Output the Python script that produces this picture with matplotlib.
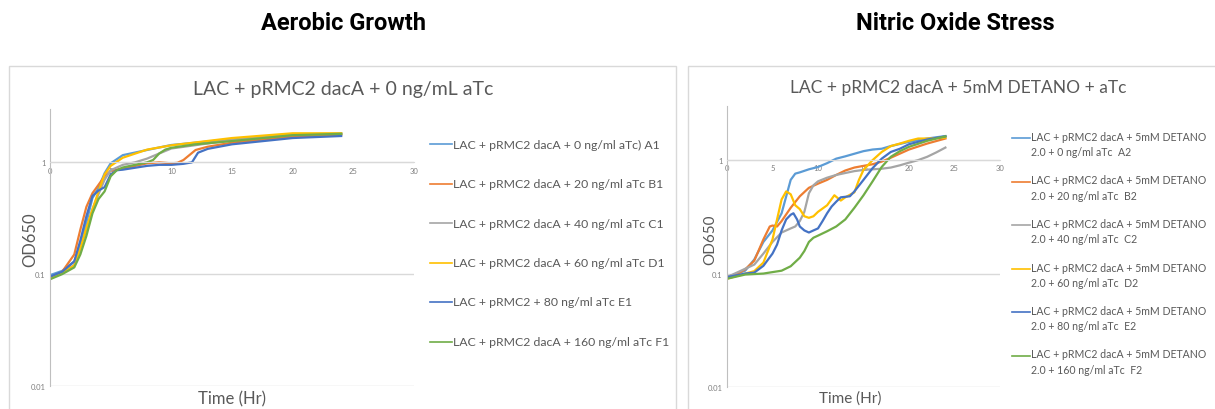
import numpy as np
import matplotlib.pyplot as plt
from matplotlib.patches import Rectangle
from matplotlib.lines import Line2D

W, H = 1215, 410

# ---- aerobic growth data (hours, OD650) ----
t_a1 = [0, 1, 2, 2.5, 3, 3.5, 4, 4.5, 5, 6, 8, 10, 15, 20, 24]
od_a1 = [0.098, 0.107, 0.13, 0.18, 0.29, 0.48, 0.59, 0.8, 0.98, 1.16, 1.29, 1.43, 1.61, 1.78, 1.8]

t_b1 = [0, 1, 2, 2.5, 3, 3.5, 4, 4.5, 5, 6, 8, 9, 10, 10.5, 11, 12, 13, 15, 20, 24]
od_b1 = [0.091, 0.105, 0.15, 0.25, 0.4, 0.53, 0.63, 0.75, 0.84, 0.88, 0.98, 1.0, 0.98, 0.99, 1.05, 1.29, 1.38, 1.5, 1.7, 1.77]

t_c1 = [0, 1, 2, 2.5, 3, 3.5, 4, 4.5, 5, 6, 7, 8, 9, 10, 15, 20, 24]
od_c1 = [0.094, 0.103, 0.12, 0.17, 0.25, 0.38, 0.52, 0.7, 0.85, 0.95, 1.0, 1.08, 1.2, 1.33, 1.58, 1.78, 1.8]

t_d1 = [0, 1, 2, 2.5, 3, 3.5, 4, 4.5, 5, 6, 8, 10, 15, 20, 24]
od_d1 = [0.093, 0.102, 0.12, 0.17, 0.26, 0.38, 0.55, 0.78, 0.93, 1.1, 1.3, 1.42, 1.65, 1.82, 1.82]

t_e1 = [0, 1, 2, 2.5, 3, 3.5, 4, 4.5, 5, 5.5, 6, 8, 9, 10, 11, 11.7, 12.2, 13, 15, 20, 24]
od_e1 = [0.095, 0.105, 0.13, 0.2, 0.33, 0.5, 0.56, 0.6, 0.78, 0.85, 0.86, 0.93, 0.95, 0.95, 0.97, 1.0, 1.22, 1.32, 1.45, 1.65, 1.72]

t_f1 = [0, 1, 2, 2.5, 3, 3.5, 4, 4.5, 5, 5.5, 6, 7, 8, 8.5, 9, 9.5, 10, 12, 15, 20, 24]
od_f1 = [0.09, 0.1, 0.115, 0.15, 0.22, 0.35, 0.47, 0.55, 0.75, 0.85, 0.9, 0.95, 1.0, 1.05, 1.2, 1.3, 1.35, 1.45, 1.55, 1.75, 1.8]

# ---- nitric oxide stress data ----
t_a2 = [0, 2, 3, 4, 5, 6, 7, 7.5, 8, 9, 10, 11, 12, 13, 15, 16, 17, 18, 20, 22, 24]
od_a2 = [0.093, 0.106, 0.133, 0.19, 0.24, 0.34, 0.67, 0.76, 0.78, 0.83, 0.87, 0.94, 1.03, 1.08, 1.2, 1.24, 1.26, 1.33, 1.45, 1.55, 1.63]

t_b2 = [0, 1.2, 2, 3, 4, 4.7, 5, 5.5, 6, 7, 8, 9, 10, 11, 12, 13, 14, 15, 16, 17, 18, 20, 22, 24]
od_b2 = [0.093, 0.1, 0.109, 0.13, 0.2, 0.26, 0.265, 0.26, 0.29, 0.38, 0.48, 0.57, 0.62, 0.67, 0.74, 0.81, 0.86, 0.89, 0.92, 0.97, 1.05, 1.24, 1.4, 1.55]

t_c2 = [0, 3, 4, 5, 6, 7, 7.5, 8, 8.5, 9, 9.5, 10, 11, 12, 13, 14, 15, 16, 17, 18, 19, 20, 21, 22, 23, 24]
od_c2 = [0.093, 0.12, 0.15, 0.19, 0.23, 0.25, 0.26, 0.29, 0.35, 0.51, 0.6, 0.65, 0.7, 0.74, 0.77, 0.8, 0.82, 0.83, 0.84, 0.86, 0.9, 0.95, 1.0, 1.07, 1.17, 1.29]

t_d2 = [0, 2, 3, 4, 5, 5.5, 6, 6.5, 7, 7.5, 8, 8.5, 9, 9.5, 10, 11, 11.8, 12.5, 13, 14, 14.5, 15, 16, 17, 18, 19, 20, 21, 22, 24]
od_d2 = [0.09, 0.1, 0.105, 0.125, 0.2, 0.3, 0.45, 0.53, 0.5, 0.4, 0.37, 0.32, 0.31, 0.32, 0.35, 0.4, 0.49, 0.44, 0.47, 0.52, 0.67, 0.82, 1.0, 1.18, 1.33, 1.4, 1.48, 1.55, 1.55, 1.58]

t_e2 = [0, 2, 3, 4, 5, 5.5, 6, 6.5, 7, 7.3, 7.7, 8, 8.5, 9, 9.5, 10, 10.5, 11, 11.5, 12, 12.5, 13.5, 14, 15, 16, 17, 18, 19, 20, 22, 24]
od_e2 = [0.093, 0.1, 0.102, 0.117, 0.15, 0.18, 0.24, 0.3, 0.33, 0.34, 0.3, 0.26, 0.24, 0.23, 0.24, 0.25, 0.29, 0.34, 0.39, 0.43, 0.47, 0.48, 0.53, 0.67, 0.85, 1.03, 1.18, 1.26, 1.38, 1.52, 1.62]

t_f2 = [0, 2, 4, 5, 6, 7, 8, 8.5, 9, 9.5, 10, 11, 12, 13, 14, 15, 16, 17, 18, 19, 20, 22, 24]
od_f2 = [0.09, 0.098, 0.1, 0.103, 0.106, 0.116, 0.138, 0.158, 0.19, 0.207, 0.216, 0.236, 0.26, 0.3, 0.38, 0.49, 0.65, 0.87, 1.07, 1.2, 1.31, 1.48, 1.62]

labels1 = ["LAC + pRMC2 dacA + 0 ng/ml aTc) A1",
           "LAC + pRMC2 dacA + 20 ng/ml aTc B1",
           "LAC + pRMC2 dacA + 40 ng/ml aTc C1",
           "LAC + pRMC2 dacA + 60 ng/ml aTc D1",
           "LAC + pRMC2 + 80 ng/ml aTc E1",
           "LAC + pRMC2 dacA + 160 ng/ml aTc F1"]
labels2 = ["LAC + pRMC2 dacA + 5mM DETANO\n2.0 + 0 ng/ml aTc  A2",
           "LAC + pRMC2 dacA + 5mM DETANO\n2.0 + 20 ng/ml aTc  B2",
           "LAC + pRMC2 dacA + 5mM DETANO\n2.0 + 40 ng/ml aTc  C2",
           "LAC + pRMC2 dacA + 5mM DETANO\n2.0 + 60 ng/ml aTc  D2",
           "LAC + pRMC2 dacA + 5mM DETANO\n2.0 + 80 ng/ml aTc  E2",
           "LAC + pRMC2 dacA + 5mM DETANO\n2.0 + 160 ng/ml aTc  F2"]

colors = ["#5B9BD5", "#ED7D31", "#A5A5A5", "#FFC000", "#4472C4", "#70AD47"]

series1 = [(t_a1, od_a1), (t_b1, od_b1), (t_c1, od_c1), (t_d1, od_d1), (t_e1, od_e1), (t_f1, od_f1)]
series2 = [(t_a2, od_a2), (t_b2, od_b2), (t_c2, od_c2), (t_d2, od_d2), (t_e2, od_e2), (t_f2, od_f2)]

plt.rcParams['font.family'] = ['Lato', 'DejaVu Sans']
txt = "#595959"


def fx(px):
    return px / W


def fy(py):
    return 1 - py / H


fig = plt.figure(figsize=(W / 100, H / 100), dpi=100)

# chart frames
fig.patches.append(Rectangle((fx(9), fy(430)), fx(676 - 9), (430 - 67) / H,
                             transform=fig.transFigure, fill=False, ec="#d9d9d9", lw=1))
fig.patches.append(Rectangle((fx(688), fy(430)), fx(560), (430 - 67) / H,
                             transform=fig.transFigure, fill=False, ec="#d9d9d9", lw=1))


def setup(ax):
    ax.set_yscale('log')
    ax.set_xlim(0, 30)
    ax.set_ylim(0.01, 3)
    ax.set_xticks(range(0, 31, 5))
    ax.set_yticks([0.01, 0.1, 1])
    ax.set_yticklabels(["0.01", "0.1", "1"])
    ax.yaxis.set_minor_locator(plt.NullLocator())
    ax.spines['top'].set_visible(False)
    ax.spines['right'].set_visible(False)
    ax.spines['left'].set_color("#bfbfbf")
    ax.spines['bottom'].set_position(('data', 1))
    ax.spines['bottom'].set_color("#d9d9d9")
    ax.grid(axis='y', color="#d9d9d9", lw=1)
    ax.set_axisbelow(True)
    ax.tick_params(length=0, labelsize=5.5, colors="#7f7f7f", pad=3)


ax1 = fig.add_axes([fx(50), fy(387), fx(364), 277 / H])
setup(ax1)
for (t, od), c in zip(series1, colors):
    ax1.plot(t, od, color=c, lw=1.6)

ax2 = fig.add_axes([fx(727), fy(388), fx(273), 281 / H])
setup(ax2)
for (t, od), c in zip(series2, colors):
    ax2.plot(t, od, color=c, lw=1.6)

# headings
fig.text(fx(343), fy(23), "Aerobic Growth", family="Roboto", weight="bold",
         fontsize=17, ha="center", va="center")
fig.text(fx(955), fy(23), "Nitric Oxide Stress", family="Roboto", weight="bold",
         fontsize=17, ha="center", va="center")

# chart titles
fig.text(fx(343), fy(90), "LAC + pRMC2 dacA + 0 ng/mL aTc", fontsize=14, color=txt,
         ha="center", va="center")
fig.text(fx(958), fy(88), "LAC + pRMC2 dacA + 5mM DETANO + aTc", fontsize=12.5, color=txt,
         ha="center", va="center")

# axis labels
fig.text(fx(232), fy(399), "Time (Hr)", fontsize=12, color=txt, ha="center", va="center")
fig.text(fx(30), fy(240), "OD650", fontsize=12, color=txt, ha="center", va="center", rotation=90)
fig.text(fx(850), fy(399), "Time (Hr)", fontsize=11, color=txt, ha="center", va="center")
fig.text(fx(710), fy(240), "OD650", fontsize=11, color=txt, ha="center", va="center", rotation=90)

# legends
for i, (lab, c) in enumerate(zip(labels1, colors)):
    y = 145 + i * 39.5
    fig.add_artist(Line2D([fx(430), fx(452)], [fy(y), fy(y)], color=c, lw=1.2))
    fig.text(fx(453), fy(y), lab, fontsize=8.8, color=txt, ha="left", va="center")

for i, (lab, c) in enumerate(zip(labels2, colors)):
    y = 139 + i * 43.5
    fig.add_artist(Line2D([fx(1012), fx(1030)], [fy(y), fy(y)], color=c, lw=1.2))
    fig.text(fx(1031), fy(y - 7), lab, fontsize=7.6, color=txt, ha="left", va="top",
             linespacing=1.45)

fig.savefig("out.png", dpi=100, facecolor="white")
